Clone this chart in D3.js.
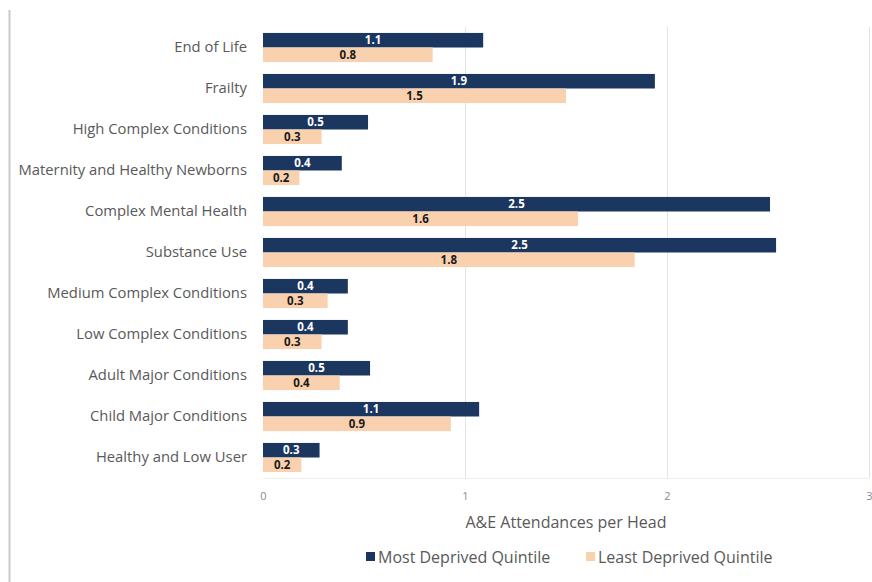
<!DOCTYPE html>
<html>
<head>
<meta charset="utf-8">
<script src="https://cdn.jsdelivr.net/npm/d3@7"></script>
<style>
  html, body { margin: 0; padding: 0; background: #ffffff; }
  svg { display: block; font-family: "Open Sans", sans-serif; }
</style>
</head>
<body>
<svg id="chart" width="872" height="582"></svg>
<script>
// A&E attendances per head by segment, most vs least deprived quintile
const categories = [
  "End of Life",
  "Frailty",
  "High Complex Conditions",
  "Maternity and Healthy Newborns",
  "Complex Mental Health",
  "Substance Use",
  "Medium Complex Conditions",
  "Low Complex Conditions",
  "Adult Major Conditions",
  "Child Major Conditions",
  "Healthy and Low User"
];
const seriesNames = ["Most Deprived Quintile", "Least Deprived Quintile"];
const mostDeprived  = [1.09, 1.94, 0.52, 0.39, 2.51, 2.54, 0.42, 0.42, 0.53, 1.07, 0.28];
const leastDeprived = [0.84, 1.50, 0.29, 0.18, 1.56, 1.84, 0.32, 0.29, 0.38, 0.93, 0.19];
const xTicks = [0, 1, 2, 3];
const axisTitle = "A&E Attendances per Head";

const colors = ["#1b365f", "#f9d1ae"];
const labelColors = ["#ffffff", "#1a1a1a"];
const FONT = "'Open Sans', sans-serif";

const rows = categories.map((c, i) => ({
  category: c,
  values: [mostDeprived[i], leastDeprived[i]]
}));

const svg = d3.select("#chart");
const margin = { left: 263, right: 3, top: 27, bottom: 104 };
const W = 872, H = 582;

const x = d3.scaleLinear().domain([0, 3]).range([margin.left, W - margin.right]);
const y = d3.scaleBand().domain(categories)
  .range([margin.top, H - margin.bottom])
  .paddingInner(0.29).paddingOuter(0.145);
const ySub = d3.scaleBand().domain([0, 1]).range([0, y.bandwidth()]);

// outer frame line on the left
svg.append("line")
  .attr("x1", 9.5).attr("x2", 9.5).attr("y1", 10).attr("y2", H)
  .attr("stroke", "#c9c9c9").attr("stroke-width", 2);

// vertical gridlines
svg.append("g")
  .selectAll("line")
  .data(xTicks.slice(1))
  .join("line")
  .attr("x1", d => Math.round(x(d)) + 0.5)
  .attr("x2", d => Math.round(x(d)) + 0.5)
  .attr("y1", margin.top)
  .attr("y2", H - margin.bottom)
  .attr("stroke", "#e3e3e3");

// bottom edge of plot area
svg.append("line")
  .attr("x1", x(0)).attr("x2", x(3))
  .attr("y1", H - margin.bottom + 0.5).attr("y2", H - margin.bottom + 0.5)
  .attr("stroke", "#eeeeee");

// bars
const groups = svg.append("g")
  .selectAll("g")
  .data(rows)
  .join("g")
  .attr("transform", d => `translate(0,${y(d.category)})`);

groups.selectAll("rect")
  .data(d => d.values.map((v, k) => ({ v, k })))
  .join("rect")
  .attr("x", x(0))
  .attr("y", d => ySub(d.k))
  .attr("width", d => x(d.v) - x(0))
  .attr("height", ySub.bandwidth())
  .attr("fill", d => colors[d.k]);

// value labels centred in each bar
groups.selectAll("text")
  .data(d => d.values.map((v, k) => ({ v, k })))
  .join("text")
  .attr("x", d => (x(0) + x(d.v)) / 2)
  .attr("y", d => ySub(d.k) + ySub.bandwidth() / 2)
  .attr("dy", "0.36em")
  .attr("text-anchor", "middle")
  .attr("font-size", 11.5)
  .attr("font-weight", "bold")
  .attr("fill", d => labelColors[d.k])
  .text(d => d3.format(".1f")(d.v));

// category axis
const yAxis = svg.append("g")
  .attr("transform", `translate(${x(0) - 16},0)`)
  .call(d3.axisLeft(y).tickSize(0).tickPadding(0));
yAxis.select(".domain").remove();
yAxis.selectAll("text")
  .attr("font-family", FONT)
  .attr("font-size", 14.8)
  .attr("fill", "#595959");

// value axis
const xAxis = svg.append("g")
  .attr("transform", `translate(0,${H - margin.bottom + 10})`)
  .call(d3.axisBottom(x).tickValues(xTicks).tickFormat(d3.format("d")).tickSize(0).tickPadding(4));
xAxis.select(".domain").remove();
xAxis.selectAll("text")
  .attr("font-family", FONT)
  .attr("font-size", 11)
  .attr("fill", "#8a8a8a");

// axis title
svg.append("text")
  .attr("x", (x(0) + x(3)) / 2)
  .attr("y", 528)
  .attr("text-anchor", "middle")
  .attr("font-size", 16)
  .attr("fill", "#595959")
  .text(axisTitle);

// legend
const legendX = [366, 586];
const legend = svg.append("g")
  .selectAll("g")
  .data(seriesNames)
  .join("g")
  .attr("transform", (d, i) => `translate(${legendX[i]},557)`);
legend.append("rect")
  .attr("x", 0).attr("y", -5)
  .attr("width", 9).attr("height", 9)
  .attr("fill", (d, i) => colors[i]);
legend.append("text")
  .attr("x", 12).attr("y", 0)
  .attr("dy", "0.35em")
  .attr("font-size", 16)
  .attr("fill", "#595959")
  .text(d => d);
</script>
</body>
</html>
